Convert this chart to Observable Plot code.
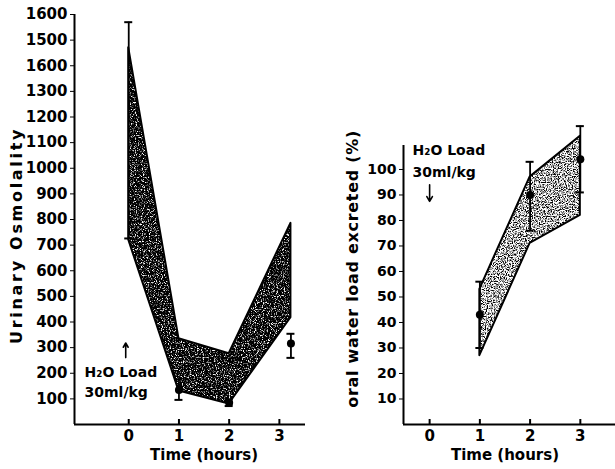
<!DOCTYPE html>
<html><head><meta charset="utf-8">
<script src="https://cdn.jsdelivr.net/npm/d3@7"></script>
<script src="https://cdn.jsdelivr.net/npm/@observablehq/plot@0.6"></script>
<style>
body{margin:0;background:#fff;}
#wrap{position:relative;width:615px;height:469px;overflow:hidden;background:#fff;}
#wrap > svg{position:absolute;top:0;}
</style></head><body><div id="wrap"></div>
<script>
// ---------- Left panel: urinary osmolality ----------
const hoursL = [0, 1, 2, 3.23];
const osmUpper = [1470, 335, 276, 785];
const osmLower = [720, 131, 80, 417];
const osmPtHours = [0, 1, 2, 3.23];
const osmMean = [1150, 135, 85, 316];
const osmLo = [726, 96, 72, 260];
const osmHi = [1570, 175, 98, 354];
const osmDotShown = [false, true, true, true];
const osmTicks = [100,200,300,400,500,600,700,800,900,1000,1100,1200,1300,1400,1500,1600];
const osmTickLabels = ["100","200","300","400","500","600","700","800","900","1000","1100","1200","1300","1600","1500","1600"];
const hourTicks = [0, 1, 2, 3];
const osmTitle = [{h: -1.08, v: 738, text: "Urinary Osmolality"}];
const osmNote = [
  {h: -0.88, v: 204, text: "H\u2082O Load"},
  {h: -0.88, v: 125, text: "30ml/kg"}
];
const osmArrow = [{h: -0.06, v1: 261, v2: 318}];

// ---------- Right panel: oral water load excreted ----------
const hoursR = [1, 2, 3];
const pctUpper = [53, 97, 113];
const pctLower = [27, 71, 82];
const pctMean = [43, 90, 104];
const pctLo = [30, 76, 91];
const pctHi = [56, 103, 117];
const pctTicks = [10,20,30,40,50,60,70,80,90,100];
const pctTitle = [{h: -0.52, v: 61, text: "oral water load excreted (%)"}];
const pctNote = [
  {h: -0.34, v: 107.6, text: "H\u2082O Load"},
  {h: -0.34, v: 99, text: "30ml/kg"}
];
const pctArrow = [{h: 0, v1: 94, v2: 87.5}];
const timeTitle = [{h: 1.5, text: "Time (hours)"}];

const FONT = "'DejaVu Sans', sans-serif";
const baseStyle = {fontFamily: FONT, fontWeight: "bold", fontSize: "14px", color: "black", background: "transparent", overflow: "visible"};

const bandL = hoursL.map((h, i) => ({h, lo: osmLower[i], hi: osmUpper[i]}));
const errL = osmPtHours.map((h, i) => ({h, m: osmMean[i], lo: osmLo[i], hi: osmHi[i], show: osmDotShown[i]}));
const bandR = hoursR.map((h, i) => ({h, lo: pctLower[i], hi: pctUpper[i]}));
const errR = hoursR.map((h, i) => ({h, m: pctMean[i], lo: pctLo[i], hi: pctHi[i]}));

// stipple texture (styling only): pattern filled with contrast-stretched noise
function stipple(id, w, h, seed, slope, intercept) {
  return () => {
    const ns = "http://www.w3.org/2000/svg";
    const defs = document.createElementNS(ns, "defs");
    defs.innerHTML = `
      <filter id="${id}-f" x="0" y="0" width="100%" height="100%" color-interpolation-filters="sRGB">
        <feTurbulence type="fractalNoise" baseFrequency="0.85" numOctaves="2" seed="${seed}"/>
        <feColorMatrix type="matrix" values="1 0 0 0 0  1 0 0 0 0  1 0 0 0 0  0 0 0 0 1"/>
        <feComponentTransfer>
          <feFuncR type="linear" slope="${slope}" intercept="${intercept}"/>
          <feFuncG type="linear" slope="${slope}" intercept="${intercept}"/>
          <feFuncB type="linear" slope="${slope}" intercept="${intercept}"/>
        </feComponentTransfer>
      </filter>
      <pattern id="${id}" patternUnits="userSpaceOnUse" width="${w}" height="${h}">
        <rect width="${w}" height="${h}" fill="#777" filter="url(#${id}-f)"/>
      </pattern>`;
    return defs;
  };
}

const xMinL = -1.08, xMaxL = 3.52;
const left = Plot.plot({
  width: 310, height: 469,
  marginLeft: 74, marginRight: 5, marginTop: 14, marginBottom: 45,
  x: {domain: [xMinL, xMaxL]},
  y: {domain: [0, 1600]},
  style: baseStyle,
  marks: [
    stipple("texL", 310, 469, 3, 4.5, -2.3),
    Plot.areaY(bandL, {x: "h", y1: "lo", y2: "hi", fill: "url(#texL)", stroke: "black", strokeWidth: 2, strokeLinejoin: "round"}),
    Plot.ruleX(errL, {x: "h", y1: "lo", y2: "hi", strokeWidth: 1.8}),
    Plot.ruleY(errL, {y: "lo", x1: "h", x2: "h", insetLeft: -4, insetRight: -4, strokeWidth: 2}),
    Plot.ruleY(errL, {y: "hi", x1: "h", x2: "h", insetLeft: -4, insetRight: -4, strokeWidth: 2}),
    Plot.dot(errL, {filter: d => d.show, x: "h", y: "m", r: 4, fill: "black"}),
    Plot.ruleX([xMinL], {y1: 0, y2: 1600, strokeWidth: 2}),
    Plot.ruleY([0], {strokeWidth: 2}),
    Plot.ruleX(hourTicks, {x: d => d, y1: 0, y2: 0, insetBottom: 5, strokeWidth: 2}),
    Plot.axisY({ticks: osmTicks, tickFormat: d => osmTickLabels[osmTicks.indexOf(d)], tickSize: 4, tickPadding: 3, fontSize: 15, label: null}),
    Plot.axisX({ticks: hourTicks, tickFormat: d => String(d), tickSize: 0, tickPadding: 6, fontSize: 15, label: null}),
    Plot.text(osmTitle, {x: "h", y: "v", text: "text", textAnchor: "middle", rotate: -90, dx: -58, fontSize: 16}),
    Plot.text(timeTitle, {x: "h", text: "text", frameAnchor: "bottom", dy: 35, fontSize: 15}),
    Plot.text(osmNote, {x: "h", y: "v", text: "text", textAnchor: "start", fontSize: 14}),
    Plot.arrow(osmArrow, {x1: "h", x2: "h", y1: "v1", y2: "v2", headLength: 6, strokeWidth: 1.6, stroke: "black"})
  ]
});

const xMinR = -0.52, xMaxR = 3.7;
const right = Plot.plot({
  width: 305, height: 469,
  marginLeft: 93, marginRight: 0, marginTop: 145, marginBottom: 45,
  x: {domain: [xMinR, xMaxR]},
  y: {domain: [0, 109.4]},
  style: baseStyle,
  marks: [
    stipple("texR", 305, 469, 11, 4, -1.3),
    Plot.areaY(bandR, {x: "h", y1: "lo", y2: "hi", fill: "url(#texR)", stroke: "black", strokeWidth: 2, strokeLinejoin: "round"}),
    Plot.ruleX(errR, {x: "h", y1: "lo", y2: "hi", strokeWidth: 1.8}),
    Plot.ruleY(errR, {y: "lo", x1: "h", x2: "h", insetLeft: -4, insetRight: -4, strokeWidth: 2}),
    Plot.ruleY(errR, {y: "hi", x1: "h", x2: "h", insetLeft: -4, insetRight: -4, strokeWidth: 2}),
    Plot.dot(errR, {x: "h", y: "m", r: 4, fill: "black"}),
    Plot.ruleX([xMinR], {y1: 0, y2: 109.4, strokeWidth: 2}),
    Plot.ruleY([0], {strokeWidth: 2}),
    Plot.ruleX(hourTicks, {x: d => d, y1: 0, y2: 0, insetBottom: 5, strokeWidth: 2}),
    Plot.axisY({ticks: pctTicks, tickSize: 4, tickPadding: 3, fontSize: 14, label: null}),
    Plot.axisX({ticks: hourTicks, tickFormat: d => String(d), tickSize: 0, tickPadding: 6, fontSize: 15, label: null}),
    Plot.text(pctTitle, {x: "h", y: "v", text: "text", textAnchor: "middle", rotate: -90, dx: -51, fontSize: 16}),
    Plot.text(timeTitle, {x: "h", text: "text", frameAnchor: "bottom", dy: 35, fontSize: 15}),
    Plot.text(pctNote, {x: "h", y: "v", text: "text", textAnchor: "start", fontSize: 14}),
    Plot.arrow(pctArrow, {x1: "h", x2: "h", y1: "v1", y2: "v2", headLength: 6, strokeWidth: 1.6, stroke: "black"})
  ]
});

// widen the axis titles (letter spacing, styling only)
function spaceTitle(svg, text, ls) {
  d3.select(svg).selectAll("text")
    .filter(function () { return this.textContent === text; })
    .attr("letter-spacing", ls);
}
spaceTitle(left, osmTitle[0].text, 2.7);
spaceTitle(right, pctTitle[0].text, 0.7);

const wrap = document.getElementById("wrap");
left.style.left = "0px";
right.style.left = "310px";
wrap.appendChild(left);
wrap.appendChild(right);
</script>
</body></html>
